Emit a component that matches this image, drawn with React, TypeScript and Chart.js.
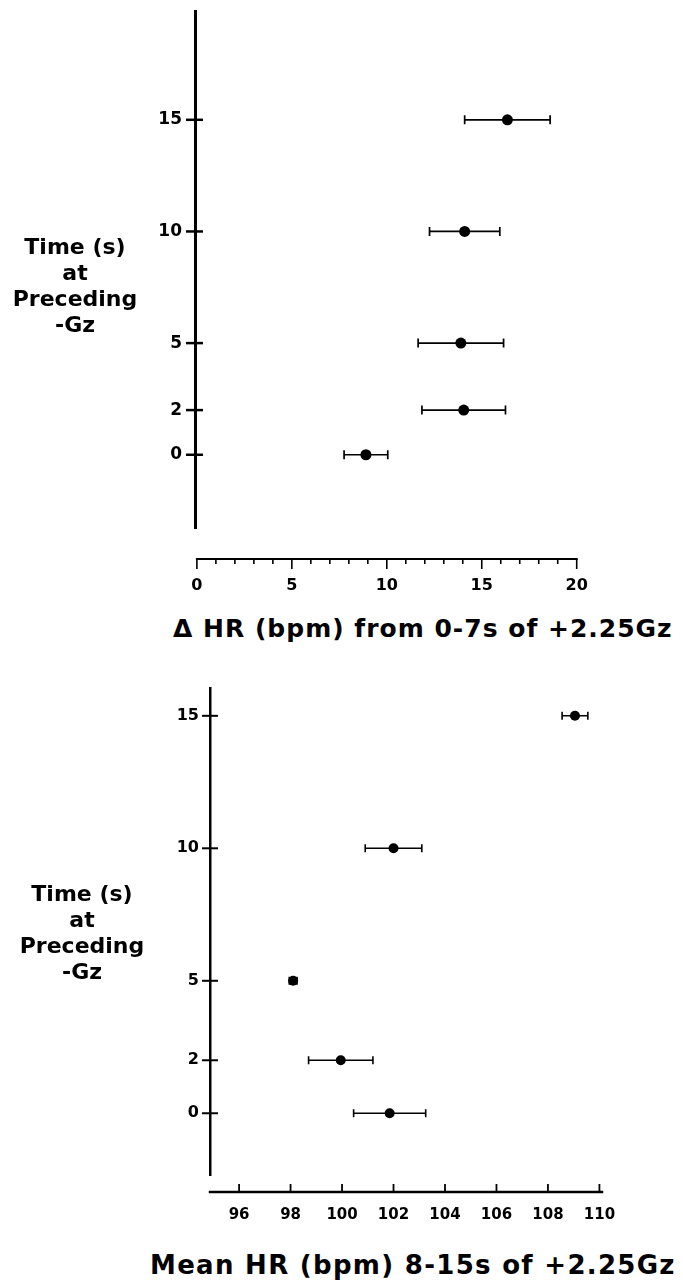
import React, { useEffect, useRef } from "react";
import { Chart, registerables } from "chart.js";

Chart.register(...registerables);

// ---------------- data ----------------
const precedingTimes = [15, 10, 5, 2, 0];
const timeTicks = [0, 2, 5, 10, 15];

const deltaHR = [16.35, 14.1, 13.9, 14.05, 8.9];
const deltaHRErr = [2.25, 1.85, 2.25, 2.2, 1.15];
const deltaTicks = [0, 5, 10, 15, 20];

const meanHR = [109.05, 102.0, 98.1, 99.95, 101.85];
const meanHRErr = [0.5, 1.1, 0.15, 1.25, 1.4];
const meanTicks = [96, 98, 100, 102, 104, 106, 108, 110];

const topXTitle = "\u0394 HR (bpm) from 0-7s of +2.25Gz";
const bottomXTitle = "Mean HR (bpm) 8-15s of +2.25Gz";
const yTitleLines = ["Time (s)", "at", "Preceding", "-Gz"];

const FONT = "'DejaVu Sans', 'Liberation Sans', sans-serif";

// ---------------- plugin: error bars, detached x axis, crossing tick marks ----------------
const hrAxesPlugin = {
  id: "hrAxes",
  beforeDatasetsDraw(chart: any, _args: any, o: any) {
    const ctx = chart.ctx;
    const xs = chart.scales.x;
    const ys = chart.scales.y;
    const ds = chart.data.datasets[0];
    ctx.save();
    ctx.strokeStyle = "#000";
    ctx.lineWidth = o.errWidth;
    ds.data.forEach((p: any, i: number) => {
      const e = ds.errors[i];
      const y = ys.getPixelForValue(p.y);
      const x1 = xs.getPixelForValue(p.x - e);
      const x2 = xs.getPixelForValue(p.x + e);
      ctx.beginPath();
      ctx.moveTo(x1, y);
      ctx.lineTo(x2, y);
      ctx.moveTo(x1, y - o.capHalf);
      ctx.lineTo(x1, y + o.capHalf);
      ctx.moveTo(x2, y - o.capHalf);
      ctx.lineTo(x2, y + o.capHalf);
      ctx.stroke();
    });
    ctx.restore();
  },
  afterDraw(chart: any, _args: any, o: any) {
    const ctx = chart.ctx;
    const xs = chart.scales.x;
    const ys = chart.scales.y;
    const area = chart.chartArea;
    ctx.save();
    ctx.strokeStyle = "#000";
    ctx.lineCap = "butt";

    // detached x axis line
    const yLine = area.bottom + o.xAxisOffset;
    const xStart = o.xLineFrom != null ? xs.getPixelForValue(o.xLineFrom) : area.left;
    const xEnd = o.xLineTo != null ? xs.getPixelForValue(o.xLineTo) : area.right;
    ctx.lineWidth = o.xLineWidth;
    ctx.beginPath();
    ctx.moveTo(xStart - o.xLineWidth / 2, yLine);
    ctx.lineTo(xEnd + o.xLineWidth / 2, yLine);
    ctx.stroke();

    // x tick marks (major at labelled ticks, minor between)
    const tickVals = xs.ticks.map((t: any) => t.value);
    const first = tickVals[0];
    const last = tickVals[tickVals.length - 1];
    ctx.lineWidth = o.xTickWidth;
    for (let k = 0; ; k++) {
      const v = first + k * o.minorStep;
      if (v > last + 1e-9) break;
      const isMajor = tickVals.some((t: number) => Math.abs(t - v) < 1e-9);
      const len = isMajor ? o.majorLen : o.minorLen;
      const px = xs.getPixelForValue(v);
      ctx.beginPath();
      ctx.moveTo(px, yLine);
      ctx.lineTo(px, yLine + o.tickDir * len);
      ctx.stroke();
    }

    // y tick marks crossing the axis
    ctx.lineWidth = o.yTickWidth;
    ys.ticks.forEach((t: any) => {
      const py = ys.getPixelForValue(t.value);
      ctx.beginPath();
      ctx.moveTo(area.left - o.yTickOut, py);
      ctx.lineTo(area.left + o.yTickIn, py);
      ctx.stroke();
    });
    ctx.restore();
  },
};

// ---------------- panel layouts ----------------
const topPanel = {
  width: 683,
  height: 600,
  values: deltaHR,
  errors: deltaHRErr,
  xTicks: deltaTicks,
  xMin: -0.1,
  xMax: 20.7,
  yMin: -3.28,
  yMax: 19.85,
  area: { left: 195, top: 11.5, right: 590, bottom: 528 },
  pointRadius: 5.5,
  xFontSize: 16,
  yFontSize: 17,
  xLabelPad: 48,
  yLabelPad: 13,
  yAxisWidth: 3,
  axes: {
    errWidth: 1.7,
    capHalf: 4.5,
    xAxisOffset: 31,
    xLineFrom: 0,
    xLineTo: 20,
    xLineWidth: 2,
    xTickWidth: 1.6,
    minorStep: 1,
    tickDir: 1,
    majorLen: 10,
    minorLen: 5,
    yTickOut: 9,
    yTickIn: 8,
    yTickWidth: 2.5,
  },
};

const bottomPanel = {
  width: 683,
  height: 580,
  values: meanHR,
  errors: meanHRErr,
  xTicks: meanTicks,
  xMin: 94.87,
  xMax: 110.1,
  yMin: -2.33,
  yMax: 16.05,
  area: { left: 210, top: 28, right: 602, bottom: 515 },
  pointRadius: 5,
  xFontSize: 15,
  yFontSize: 16,
  xLabelPad: 31,
  yLabelPad: 11,
  yAxisWidth: 2.5,
  axes: {
    errWidth: 1.6,
    capHalf: 4,
    xAxisOffset: 17,
    xLineFrom: null,
    xLineTo: null,
    xLineWidth: 2.5,
    xTickWidth: 1.8,
    minorStep: 2,
    tickDir: -1,
    majorLen: 8,
    minorLen: 8,
    yTickOut: 8,
    yTickIn: 8,
    yTickWidth: 2,
  },
};

function buildConfig(panel: any): any {
  const { area, width, height } = panel;
  return {
    type: "scatter",
    data: {
      datasets: [
        {
          data: panel.values.map((v: number, i: number) => ({ x: v, y: precedingTimes[i] })),
          errors: panel.errors,
          backgroundColor: "#000",
          borderColor: "#000",
          borderWidth: 0,
          pointRadius: panel.pointRadius,
          pointHoverRadius: panel.pointRadius,
        },
      ],
    },
    options: {
      responsive: false,
      maintainAspectRatio: false,
      animation: false,
      events: [],
      layout: { padding: { left: 0, top: area.top, right: width - area.right, bottom: 0 } },
      plugins: {
        legend: { display: false },
        tooltip: { enabled: false },
        hrAxes: panel.axes,
      },
      scales: {
        x: {
          type: "linear",
          position: "bottom",
          min: panel.xMin,
          max: panel.xMax,
          afterBuildTicks: (s: any) => {
            s.ticks = panel.xTicks.map((v: number) => ({ value: v }));
          },
          afterFit: (s: any) => {
            s.height = height - area.bottom;
            s.paddingLeft = 0;
            s.paddingRight = 0;
          },
          grid: { display: false, drawTicks: false },
          border: { display: false },
          ticks: {
            padding: panel.xLabelPad,
            color: "#000",
            autoSkip: false,
            maxRotation: 0,
            minRotation: 0,
            font: { family: FONT, size: panel.xFontSize, weight: "bold" },
            callback: (v: any) => String(v),
          },
        },
        y: {
          type: "linear",
          position: "left",
          min: panel.yMin,
          max: panel.yMax,
          afterBuildTicks: (s: any) => {
            s.ticks = timeTicks.map((v) => ({ value: v }));
          },
          afterFit: (s: any) => {
            s.width = area.left;
            s.paddingTop = 0;
            s.paddingBottom = 0;
          },
          grid: { display: false, drawTicks: false },
          border: { display: true, color: "#000", width: panel.yAxisWidth },
          ticks: {
            padding: panel.yLabelPad,
            color: "#000",
            autoSkip: false,
            font: { family: FONT, size: panel.yFontSize, weight: "bold" },
            callback: (v: any) => String(v),
          },
        },
      },
    },
    plugins: [hrAxesPlugin],
  };
}

function YTitle({ left, top, width }: { left: number; top: number; width: number }) {
  return (
    <div
      style={{
        position: "absolute",
        left,
        top,
        width,
        textAlign: "center",
        fontFamily: FONT,
        fontWeight: "bold",
        fontSize: 22,
        lineHeight: "26px",
        whiteSpace: "nowrap",
      }}
    >
      {yTitleLines.map((l) => (
        <div key={l}>{l}</div>
      ))}
    </div>
  );
}

export default function App() {
  const topRef = useRef<HTMLCanvasElement>(null);
  const botRef = useRef<HTMLCanvasElement>(null);

  useEffect(() => {
    const c1 = new Chart(topRef.current as HTMLCanvasElement, buildConfig(topPanel));
    const c2 = new Chart(botRef.current as HTMLCanvasElement, buildConfig(bottomPanel));
    return () => {
      c1.destroy();
      c2.destroy();
    };
  }, []);

  return (
    <div
      style={{
        position: "absolute",
        left: 0,
        top: 0,
        width: 683,
        height: 1287,
        background: "#fff",
        color: "#000",
        overflow: "hidden",
      }}
    >
      <canvas
        ref={topRef}
        width={topPanel.width}
        height={topPanel.height}
        style={{ position: "absolute", left: 0, top: 0, width: topPanel.width, height: topPanel.height }}
      />
      <canvas
        ref={botRef}
        width={bottomPanel.width}
        height={bottomPanel.height}
        style={{ position: "absolute", left: 0, top: 660, width: bottomPanel.width, height: bottomPanel.height }}
      />
      <YTitle left={0} top={234} width={150} />
      <YTitle left={0} top={881} width={164} />
      <div
        style={{
          position: "absolute",
          left: 173,
          top: 616,
          fontFamily: FONT,
          fontWeight: "bold",
          fontSize: 25,
          letterSpacing: "1px",
          lineHeight: "25px",
          whiteSpace: "nowrap",
        }}
      >
        {topXTitle}
      </div>
      <div
        style={{
          position: "absolute",
          left: 150,
          top: 1252,
          fontFamily: FONT,
          fontWeight: "bold",
          fontSize: 26,
          letterSpacing: "1.3px",
          lineHeight: "26px",
          whiteSpace: "nowrap",
        }}
      >
        {bottomXTitle}
      </div>
    </div>
  );
}
